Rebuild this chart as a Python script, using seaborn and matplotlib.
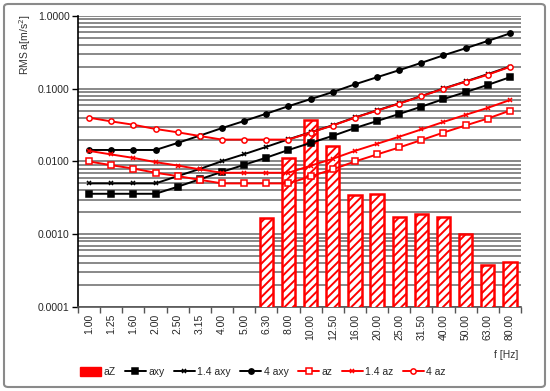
import numpy as np
import pandas as pd
import matplotlib
matplotlib.use("Agg")
import matplotlib.pyplot as plt
from matplotlib.patches import Patch, FancyBboxPatch
from matplotlib.ticker import LogLocator, FixedLocator, NullFormatter
import seaborn as sns

# ---- data ----
freqs = ["1.00", "1.25", "1.60", "2.00", "2.50", "3.15", "4.00", "5.00", "6.30", "8.00",
         "10.00", "12.50", "16.00", "20.00", "25.00", "31.50", "40.00", "50.00", "63.00", "80.00"]
aZ = [np.nan, np.nan, np.nan, np.nan, np.nan, np.nan, np.nan, np.nan, 0.00166, 0.0112,
      0.037, 0.0162, 0.0035, 0.0036, 0.0017, 0.0019, 0.0017, 0.0010, 0.00038, 0.00041]
axy = [0.0036, 0.0036, 0.0036, 0.0036, 0.0045, 0.0057, 0.0072, 0.009, 0.0113, 0.0144,
       0.018, 0.0225, 0.0288, 0.036, 0.045, 0.0567, 0.072, 0.09, 0.113, 0.144]
axy_14 = [0.005, 0.005, 0.005, 0.005, 0.0063, 0.0079, 0.0101, 0.0126, 0.0159, 0.0202,
          0.0252, 0.0315, 0.0403, 0.0504, 0.063, 0.0794, 0.101, 0.126, 0.159, 0.202]
axy_4 = [0.0144, 0.0144, 0.0144, 0.0144, 0.018, 0.0227, 0.0288, 0.036, 0.0454, 0.0576,
         0.072, 0.09, 0.115, 0.144, 0.18, 0.227, 0.288, 0.36, 0.454, 0.576]
az = [0.01, 0.0089, 0.008, 0.007, 0.0063, 0.0056, 0.005, 0.005, 0.005, 0.005,
      0.00625, 0.0078, 0.01, 0.0125, 0.0156, 0.0197, 0.025, 0.0313, 0.039, 0.05]
az_14 = [0.014, 0.0125, 0.0112, 0.0098, 0.0088, 0.0078, 0.007, 0.007, 0.007, 0.007,
         0.00875, 0.0109, 0.014, 0.0175, 0.0219, 0.0276, 0.035, 0.0438, 0.0546, 0.07]
az_4 = [0.04, 0.0356, 0.032, 0.028, 0.0252, 0.0224, 0.02, 0.02, 0.02, 0.02,
        0.025, 0.0312, 0.04, 0.05, 0.0624, 0.0788, 0.1, 0.125, 0.156, 0.2]

sns.set_theme(style="white")
plt.rcParams["font.family"] = ["Liberation Sans", "DejaVu Sans"]
plt.rcParams["hatch.color"] = "red"
plt.rcParams["hatch.linewidth"] = 1.4
FS = 7.5

fig = plt.figure(figsize=(5.5, 3.91), dpi=100)
ax = fig.add_axes([78 / 550, 1 - 307 / 391, (521 - 78) / 550, (307 - 16) / 391])

df = pd.DataFrame({"f": freqs, "aZ": aZ})
sns.barplot(data=df.dropna(), x="f", y="aZ", order=freqs, color="white", edgecolor="red",
            hatch="////", linewidth=1.8, width=0.6, ax=ax, zorder=3, saturation=1)
for p in ax.patches:
    p.set_facecolor("white")
    p.set_edgecolor("red")
    p.set_hatch("////")

pos = np.arange(len(freqs))
series = [
    ("axy", axy, "black", "s", "black", 3.8),
    ("1.4 axy", axy_14, "black", "x", "black", 3.5),
    ("4 axy", axy_4, "black", "o", "black", 3.8),
    ("az", az, "red", "s", "white", 3.8),
    ("1.4 az", az_14, "red", "x", "red", 3.5),
    ("4 az", az_4, "red", "o", "white", 3.8),
]
for name, vals, col, mk, mfc, ms in series:
    sns.lineplot(x=pos, y=vals, ax=ax, color=col, marker=mk, markersize=ms,
                 markerfacecolor=mfc, markeredgecolor=col, markeredgewidth=1.1,
                 linewidth=1.4, zorder=4, label=name)

if ax.get_legend() is not None:
    ax.get_legend().remove()

ax.set_yscale("log")
ax.set_ylim(1e-4, 1.0)
ax.set_xlim(-0.5, len(freqs) - 0.5)
ax.yaxis.set_minor_locator(LogLocator(base=10, subs=np.arange(2, 10), numticks=20))
ax.yaxis.set_minor_formatter(NullFormatter())
ax.set_yticks([1e-4, 1e-3, 1e-2, 1e-1, 1.0])
ax.set_yticklabels(["0.0001", "0.0010", "0.0100", "0.1000", "1.0000"], fontsize=FS)
ax.yaxis.grid(True, which="both", color="#7f7f7f", linewidth=1.3, zorder=0)
ax.xaxis.grid(False)
ax.set_axisbelow(True)
ax.tick_params(axis="y", which="major", length=4, width=1, color="black", pad=2, left=True)
ax.tick_params(axis="y", which="minor", length=0)

ax.set_xticks(pos)
ax.set_xticklabels(freqs, rotation=90, fontsize=FS)
ax.xaxis.set_minor_locator(FixedLocator(np.arange(len(freqs) + 1) - 0.5))
ax.tick_params(axis="x", which="major", length=0, pad=5)
ax.tick_params(axis="x", which="minor", length=4, width=1, color="#555555", bottom=True)
ax.set_xlabel("")
ax.set_ylabel("")

for s in ["top", "right"]:
    ax.spines[s].set_visible(False)
ax.spines["left"].set_color("black")
ax.spines["left"].set_linewidth(1.2)
ax.spines["bottom"].set_color("#555555")
ax.spines["bottom"].set_linewidth(1.2)

fig.text(25 / 550, 1 - 14 / 391, "RMS a[m/s$^2$]", rotation=90, ha="center", va="top",
         fontsize=FS, color="#333333")
fig.text(518 / 550, 1 - 355 / 391, "f [Hz]", ha="right", va="center", fontsize=FS, color="#333333")

h, l = ax.get_legend_handles_labels()
handles = [Patch(facecolor="red", edgecolor="red")] + h
labels = ["aZ"] + l
fig.legend(handles, labels, loc="center", bbox_to_anchor=(0.478, 1 - 372 / 391), ncol=7,
           frameon=False, fontsize=FS, handlelength=2.0, handletextpad=0.25,
           columnspacing=0.9, handleheight=0.9)

border = FancyBboxPatch((4 / 550, 4 / 391), 541 / 550, 383 / 391,
                        boxstyle="round,pad=0,rounding_size=0.008",
                        transform=fig.transFigure, fill=False, edgecolor="#8a8a8a", linewidth=1.5)
fig.patches.append(border)

fig.savefig("out.png", dpi=100)
